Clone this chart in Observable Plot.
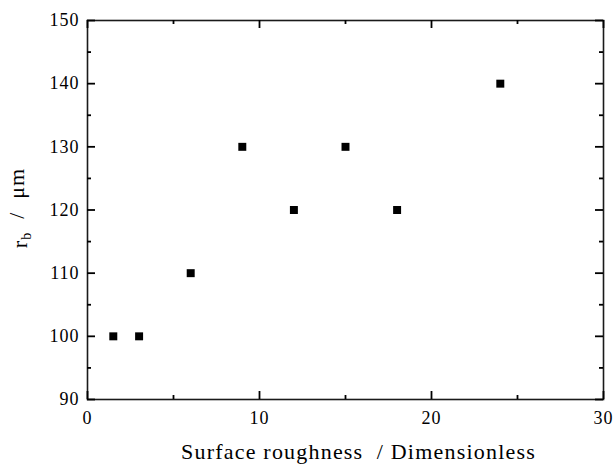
<!DOCTYPE html>
<html>
<head>
<meta charset="utf-8">
<script src="https://cdn.jsdelivr.net/npm/d3@7"></script>
<script src="https://cdn.jsdelivr.net/npm/@observablehq/plot@0.6"></script>
<style>
  html, body { margin: 0; padding: 0; background: #fff; }
  svg { display: block; }
</style>
</head>
<body>
<div id="chart"></div>
<script>
const roughness = [1.5, 3, 6, 9, 12, 15, 18, 24];
const radius = [100, 100, 110, 130, 120, 130, 120, 140];
const xMajor = [0, 10, 20, 30];
const xMinor = [5, 15, 25];
const yMajor = [90, 100, 110, 120, 130, 140, 150];
const yMinor = [95, 105, 115, 125, 135, 145];
const xTitle = "Surface roughness  / Dimensionless";

const data = roughness.map((x, i) => ({x, y: radius[i]}));
const font = "'Liberation Serif', 'Times New Roman', serif";
const ink = "#000";

const W = 614, H = 464, mL = 87, mR = 11, mT = 20, mB = 65;
const fw = W - mL - mR, fh = H - mT - mB;
const major = 8, minor = 4;
const tk = {stroke: ink, strokeWidth: 1.8, strokeOpacity: 1};

const chart = Plot.plot({
  width: W,
  height: H,
  marginLeft: mL,
  marginRight: mR,
  marginTop: mT,
  marginBottom: mB,
  style: {fontFamily: font, fontSize: "18px", color: "#000", background: "#fff"},
  x: {domain: [0, 30]},
  y: {domain: [90, 150]},
  marks: [
    Plot.frame({stroke: "#1a1a1a", strokeWidth: 1.6}),
    // inward ticks, bottom & top
    Plot.tickX(xMajor, {x: d => d, insetTop: fh - major, ...tk}),
    Plot.tickX(xMinor, {x: d => d, insetTop: fh - minor, ...tk}),
    Plot.tickX(xMajor, {x: d => d, insetBottom: fh - major, ...tk}),
    Plot.tickX(xMinor, {x: d => d, insetBottom: fh - minor, ...tk}),
    // inward ticks, left & right
    Plot.tickY(yMajor, {y: d => d, insetRight: fw - major, ...tk}),
    Plot.tickY(yMinor, {y: d => d, insetRight: fw - minor, ...tk}),
    Plot.tickY(yMajor, {y: d => d, insetLeft: fw - major, ...tk}),
    Plot.tickY(yMinor, {y: d => d, insetLeft: fw - minor, ...tk}),
    // tick labels
    Plot.axisX({anchor: "bottom", ticks: xMajor, tickSize: 0, tickPadding: 12, tickFormat: d => d, fontSize: 18, label: null}),
    Plot.axisY({anchor: "left", ticks: yMajor, tickSize: 0, tickPadding: 8, tickFormat: d => d, fontSize: 18, label: null}),
    // data
    Plot.dot(data, {x: "x", y: "y", symbol: "square", r: 4.5, fill: "#000", stroke: null}),
    // x title
    Plot.text([xTitle], {frameAnchor: "bottom", dy: 59, dx: 13, lineAnchor: "bottom", fontSize: 22, fill: "#000"}),
    // y title
    Plot.text(["YLABEL"], {frameAnchor: "left", dx: -68, dy: -2, rotate: -90, fontSize: 22, fill: "#000", textAnchor: "middle", lineAnchor: "middle"})
  ]
});

const svg = d3.select(chart);
svg.selectAll("g[aria-label='x-axis tick label'] text, g[aria-label='y-axis tick label'] text")
  .attr("letter-spacing", "1px");
svg.selectAll("text").filter(function() { return this.textContent === xTitle; })
  .attr("letter-spacing", "1.2px");

// subscripted y-axis label as real text with tspans
svg.selectAll("text").filter(function() { return this.textContent === "YLABEL"; }).each(function() {
  const t = d3.select(this).attr("letter-spacing", "1px");
  t.text(null);
  t.append("tspan").text("r");
  t.append("tspan").attr("font-size", "14px").attr("dy", "0.35em").text("b");
  t.append("tspan").attr("dy", "-0.35em").attr("font-size", "22px").text("\u00a0 / \u00a0\u03bcm");
});

document.getElementById("chart").appendChild(chart);
</script>
</body>
</html>
